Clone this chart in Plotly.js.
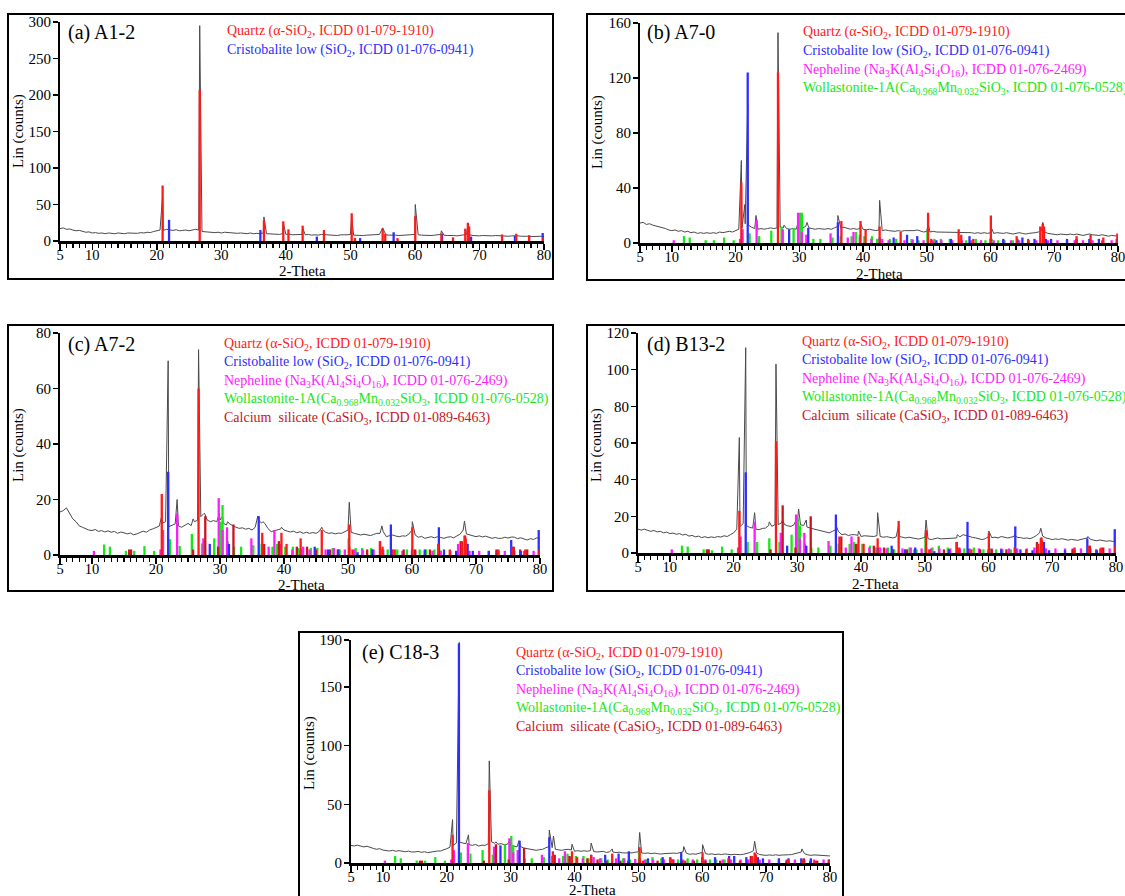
<!DOCTYPE html>
<html><head><meta charset="utf-8">
<script src="https://cdn.plot.ly/plotly-3.0.1.min.js"></script>
<style>html,body{margin:0;padding:0;background:#fff}#chart{width:1125px;height:896px}</style>
</head><body><div id="chart"></div>
<script>
// ---------- observed background (counts at 0.5° steps from 5 to 80) ----------
const bgA = [17,18,16,16.5,15,14,14.5,13,12,12.5,
11,11.5,10.5,11,10,11,10.5,10,11,10.5,
10,11,10.5,11,10.5,11.5,11,12,11.5,13,
14,15,14.5,16,15,14.5,15.5,14,14.5,15,
14,15.5,16,15,13,12.5,12,12.5,11.5,12,
11,12,11.5,11,11.5,10.5,11,10.5,10,11,
10,10.5,10,11,10,9.5,10,9.5,9,10,
9,9.5,8.5,9,9.5,9,8.5,9,8,8.5,
8,9,8.5,8,8.5,8,7.5,8.5,8,8.5,
9,8,7.5,8,7.5,8,8.5,8,8.5,9,
9,8.5,8,8.5,8,7.5,8,8.5,8,9,
9,8.5,8,7.5,8,7.5,8,8.5,9,8,
7.5,8,7.5,7,7.5,8,9,8.5,7.5,7,
7,7.5,7,6.5,7,7.5,7,7.5,7,6.5,
7,7.5,7,6.5,7,6.5,6,6.5,6,6.5,6];
const bgB = [14.5,15,13.5,14,13,12.5,11.5,11,10.5,9.5,
9,9.5,8.5,9,8,8.5,7.5,8,7,7.5,
7,7.5,7,7.5,7,8,7.5,8,8.5,8,
9,10,11,14,13,11.5,10.5,10,10.5,10,
10.5,11,10.5,11,11.5,11,10.5,10,10.5,10,
10,11,12,11,10.5,10,10.5,10,10,10.5,
10,11,12,11,11.5,10.5,10,10.5,10,10.5,
10,9.5,10,9.5,9,9.5,9,9.5,9,8.5,
8.5,9,8.5,9,9,8.5,9,9.5,8.5,8,
8.5,8,8.5,8,8,7.5,8,7.5,8,7.5,
8,7.5,7.5,8,7.5,7,7.5,7,7.5,7,
7.5,7,7.5,7,7,7.5,7,6.5,7,7.5,
7,6.5,7,7,7.5,8,9,8,7,6.5,
6.5,6,6.5,6,6,6.5,6,6.5,6,5.5,
6,6.5,6,5.5,5.5,6,5.5,5,5.5,5,5];
const bgC = [15.5,16,17,15,13,12,10.5,10,9.5,9,
8.8,9.2,8.5,8.8,8.3,8.7,8.2,8.5,7.8,8.3,
8,7.6,7.9,7.3,7.6,8.2,8.6,8.2,9,9.4,
9.8,10.4,11.5,12,10.2,10.8,11.2,10.5,10,10.8,
11.4,10.6,12,12.5,13.8,15,12.6,12,12.4,12,
12.6,11.5,10.8,11.2,10.5,10,9.6,9.8,9.3,9.6,
9,10,12.6,11.5,11.4,9.5,8.4,8.8,9,9.4,
9,8.6,8.3,8.6,8,8.4,7.8,8.2,7.8,8.1,
7.8,8.5,9.3,8.2,7.8,8,7.6,7.9,7.8,8.3,
9,8.2,7.8,7.5,7.2,7.5,7.2,7,7.4,7.8,
7.8,8.4,6.6,7,7.2,6.8,6.6,6.9,6.8,7.5,
9,7.2,6.4,6.7,6,6.4,6.6,6.2,6.6,6.3,
6,6.4,6.6,6.2,6.9,7.5,9,7.6,7.2,6.8,
6.6,6.9,6.5,6.8,6.4,6,6.3,6,6,6.4,
6.1,6.6,6.4,5.9,6.2,5.7,5.4,5.9,5.6,6.2,6];
const bgD = [13,12.5,13,12.2,11.8,12.3,11.5,11.8,11,11.4,
10.6,10.9,10.2,10.6,9.8,10.2,9.2,9.6,8.8,9.2,
8.4,8.9,8.3,8.8,8.4,9,8.7,9.4,9,10,
11,13,14.5,16,15,14,13.6,13,12.7,13.4,
13.6,15,14.5,15.5,15.5,16.4,15.5,14.8,14.5,15.5,
16.4,15.4,15,14.2,13.6,13.2,12.7,12.2,11.8,11.4,
11,11.8,12.7,11.5,10,10.4,9.5,10,10,9.6,
9,9.4,9.2,8.8,9,9.5,9,8.6,8.9,8.4,
8.2,8.8,9,8.5,8.2,8.6,8.4,8,7.6,8,
8.5,7.8,7.3,7.8,8.2,7.7,7.8,8.2,8,8.4,
8.2,8.8,10,9.4,9,8.5,8.2,7.8,7.3,7.8,
9,8.4,8.6,8.2,9,8.6,8.2,8.6,9,8.5,
8.4,8,8.2,7.8,8.5,9.5,11,9.2,8.2,7.8,
7.3,7.7,7.4,7.8,7.3,7,7.4,7.1,6.9,7.4,
7.8,8.2,7.4,7,6.7,7.1,6.8,6.4,6.7,6.3,6.4];
const bgE = [15,14.5,15.2,14.2,13.7,14.3,13,12.4,11.7,12.2,
11,10.6,10.2,10.8,10,10.5,10,9.6,10.1,9.4,
9.4,9.9,9.1,9.6,8.8,9.4,9.6,10.2,10.2,11,
12.2,13.5,15,17,17.9,17,16.5,15.6,15,15.8,
14.5,15.2,15,16.5,18,16.8,16,16.5,15.6,16,
15,14.4,13.7,14.2,12.8,12.2,11.7,11.2,10.8,11.3,
11.7,13,14,13,11.7,11.2,10.8,11.4,11.7,11,
10,10.5,10,10.4,10,10.6,9.8,9.4,9.4,9.9,
9,9.5,9.4,8.9,9.2,8.6,8.5,9,8.6,9.2,
9.5,8.6,8.2,8.6,8,8.4,8,7.6,8,8.3,
8,8.4,8.2,8.8,9.5,8.4,7.4,7.8,7.5,8,
9,8,7.4,7.8,7.2,7.6,7.2,7.7,7.4,7,
7.4,7.1,7.1,7.5,8,9,10.5,8.6,7.2,6.8,
6.5,6.9,6.5,7,6.5,6.8,6.6,7,7.2,7.8,
8.8,9.4,8,7,6.5,6.9,6.8,6.4,6.2,6.6,6];

// ---------- observed sharp peaks (2θ, counts) ----------
const pkA_x = [20.9, 26.65, 36.6, 39.6, 42.6, 50.2, 55.0, 60.05, 64.1, 68.2];
const pkA_y = [62, 295, 33, 25, 18, 33, 18, 50, 14, 20];
const pkB_x = [20.9, 21.45, 21.9, 23.2, 26.65, 27.6, 29.9, 31.2, 36.05, 39.6, 42.6, 50.2, 60.05, 68.2];
const pkB_y = [60, 28, 100, 20, 153, 13, 16, 15, 20, 14, 31, 14, 12, 15];
const pkC_x = [20.9, 21.9, 23.3, 25.8, 26.65, 27.6, 29.9, 30.4, 31.2, 35.9, 36.7, 39.6, 45.9, 50.2, 55.3, 60.05, 68.2, 75.6];
const pkC_y = [14, 70, 20, 13, 74, 15, 15, 14, 12, 14, 12, 10, 10, 19, 10.5, 12, 12.2, 6.5];
const pkD_x = [20.9, 21.9, 23.3, 25.6, 26.65, 27.7, 29.8, 30.2, 31.4, 36.05, 39.6, 42.6, 45.9, 50.2, 55.1, 60.05, 64.1, 68.2, 75.6];
const pkD_y = [63, 112, 22, 17, 103, 18, 18, 24, 18, 15, 12, 22, 15, 18, 10, 12, 10, 13.5, 9];
const pkE_x = [20.9, 21.95, 23.4, 26.65, 27.7, 29.9, 31.3, 36.05, 36.7, 39.6, 42.6, 45.9, 50.2, 57.1, 60.05, 68.2, 75.6];
const pkE_y = [37, 188, 24, 87, 18, 20, 19, 28, 23, 16, 17, 12, 26, 14, 15.6, 18.5, 12];

// ---------- reference stick patterns (positions, heights per sample) ----------
const qzPos = [20.9, 26.65, 36.6, 39.6, 40.4, 42.6, 45.9, 50.2, 50.7, 55.0, 55.4, 57.3, 60.05, 64.1, 65.9, 67.8, 68.2, 68.4, 73.5, 75.7, 77.7, 79.9];
const qzA = [76, 207, 28, 27, 16, 21, 15, 38, 4, 17, 10, 4, 34, 10, 5, 17, 25, 20, 9, 10, 8, 5];
const qzB = [44, 124, 16, 16, 10, 12, 8, 22, 3, 10, 6, 3, 20, 5, 3, 12, 14, 12, 5, 6, 4, 7];
const qzC = [22, 60, 8, 8, 4, 6, 9, 11, 2, 5, 3, 2, 10, 4, 2, 5, 7, 6, 2, 3, 2, 2];
const qzD = [23, 61, 9, 9, 5, 8, 17.5, 12.5, 2, 6, 3, 2, 11, 3, 2, 5, 8, 7, 3, 4, 3, 4];
const qzE = [24, 62, 10, 10, 5, 7, 8, 13.5, 2, 4, 3, 2, 9, 4, 2, 6, 9, 7, 3, 3, 2, 3];

const crPos = [21.9, 28.4, 31.4, 36.05, 42.6, 44.8, 46.9, 48.5, 51.5, 53.8, 56.7, 60.0, 62.0, 64.2, 65.0, 66.9, 68.7, 69.5, 72.0, 73.5, 75.5, 77.0, 79.8];
const crA = [29, 0, 0, 15, 0, 6, 0, 0, 4, 0, 12, 0, 0, 10, 0, 0, 6, 0, 0, 0, 7, 0, 11];
const crB = [124, 10, 11, 15, 4, 4, 6, 5, 2, 3, 5, 3, 3, 3, 4, 3, 3, 3, 3, 3, 3, 3, 3];
const crC = [30, 4, 4, 14, 2, 3, 2, 2, 1, 2, 11, 2, 2, 10, 2, 1.5, 4, 1.5, 1.5, 1.5, 5.4, 1.5, 9];
const crD = [44, 4, 4, 21, 3, 4, 2, 3, 1, 2, 17, 2, 2, 14.5, 2, 1.5, 6, 1.5, 1.5, 1.5, 8, 1.5, 13];
const crE = [187, 15, 19, 22, 7, 7, 8, 10, 4, 5, 9, 5, 5, 6, 6, 5, 5, 4, 4, 4, 4, 4, 3];

const nePos = [10.3, 20.7, 21.1, 23.3, 27.4, 29.8, 30.4, 31.1, 34.9, 37.6, 38.5, 39.5, 41.3, 43.0, 44.0, 46.5, 47.8, 49.5, 51.0, 52.3, 54.0, 55.5, 57.0, 58.5, 60.5, 62.0, 63.2, 64.5, 66.0, 67.2, 69.0, 70.5, 72.0, 73.2, 74.5, 76.0, 77.5, 79.0];
const neB = [2,3,10,17,10, 22,8,6,7,4, 8,4,3,3,2, 2,2.5,2,2,2, 2,2,2,2,2, 2,2,2,2,2, 2,2,2,2,2, 2,2,2];
const neC = [1.5,2,9,15,6, 20.5,9,10,6,3, 9,4,2,3,2, 2,2.5,2,2,2, 2,2,2,1.5,1.5, 1.5,1.5,1.5,1.5,4, 1.5,1.5,1.5,1.5,1.5, 1.5,1.5,1.5];
const neD = [2,3,9,17,11, 21,8,11,6.5,3, 9,4,3,3,2.5, 2.5,3,2.5,2.5,2.5, 2.5,2.5,2.5,2.5,2.5, 2.5,2.5,2.5,2.5,3, 2.5,2.5,2.5,2.5,2.5, 2.5,2.5,2.5];
const neE = [2,3,11,17,14, 21,9,11,7,4, 10,5,4,5,4, 4,4,3.5,3,3, 3,3,3,3,3, 3,3,3,3,3, 3,3,3,3,3, 3,3,3];

const woPos = [11.9, 12.8, 15.3, 16.6, 18.2, 19.7, 22.2, 23.7, 25.6, 27.2, 29.1, 30.1, 30.4, 31.2, 32.2, 33.3, 35.2, 36.5, 38.2, 38.9, 39.5, 40.2, 41.4, 42.2, 44.2, 45.2, 47.6, 48.7, 50.1, 51.2, 52.2, 53.6, 55.2, 56.2, 57.7, 59.2, 60.2, 61.2, 62.2, 63.5, 64.3];
const woB = [5,4,2,2,4, 2,7,5,9,12, 11,22,22,6,3, 3,4,5,5,8, 6,5,5,3,3, 3,3,2,8,3, 3,3,2,2,3, 2,3,2,2,2, 2];
const woC = [3.8,3,1.5,1.5,3.2, 1.5,5.7,3.3,7.6,4.2, 6,12,18,5,3, 3,3.5,4,3,4, 3,3,3,2.5,2.5, 2.5,2.5,2,6,2.5, 2.5,2.5,2,2,2, 2,2,2,2,2, 2];
const woD = [4,3.5,2,1.5,3.5, 2,6,6,8,6, 10,19,15,5,3, 3,4,5,5,6, 5,5,4,3,3, 2,3,2,8,3, 4,3,2,2.5,3, 2,2.5,2,2,2, 2];
const woE = [6,4,2,2,5, 2,9,8,11,7, 16,23,15,6,4, 4,5,6,6,8, 6,6,6,4,4, 3,4,3,9,3, 5,4,3,3,4, 3,3,3,3,3, 3];

const csPos = [15.8, 16.1, 25.8, 27.7, 29.7, 32.1, 36.9, 39.2, 42.0, 43.6, 45.0, 47.2, 48.4, 50.2, 53.0, 55.0, 56.8, 58.7, 60.5, 62.8, 67.6, 68.3, 73.2, 75.9, 76.9, 78.0];
const csC = [2,2,2,14,3, 11,4,5,3,3, 2,2,2,3,2, 5,2,2,2,2, 5,7,2,3,2, 2];
const csD = [2,2,2,26,3, 20,9,5,4,3, 2,2,2,3,2, 6,2,2,2,2, 6,8.5,2,4,2, 3];
const csE = [2,2,2,16,3, 13,7,6,4,3, 2,2,2,4,2, 5,2,2,2,2, 6,8,2,4,2, 2];

// ---------- text ----------
const xTickVals = [5,10,20,30,40,50,60,70,80];
const LEG = {
  qz: 'Quartz (α-SiO<sub>2</sub>, ICDD 01-079-1910)',
  cr: 'Cristobalite low (SiO<sub>2</sub>, ICDD 01-076-0941)',
  ne: 'Nepheline (Na<sub>3</sub>K(Al<sub>4</sub>Si<sub>4</sub>O<sub>16</sub>), ICDD 01-076-2469)',
  wo: 'Wollastonite-1A(Ca<sub>0.968</sub>Mn<sub>0.032</sub>SiO<sub>3</sub>, ICDD 01-076-0528)',
  cs: 'Calcium  silicate (CaSiO<sub>3</sub>, ICDD 01-089-6463)'
};
const COL = {qz:'#ff1a1a', cr:'#2e2eff', ne:'#ff1aff', wo:'#19e619', cs:'#c8141e', obs:'#4a4a4a'};
const POS = {qz:qzPos, cr:crPos, ne:nePos, wo:woPos, cs:csPos};

const W = 1125, H = 896;
const FONT = '"Liberation Serif", "Times New Roman", serif';

const panels = [
  {label:'(a) A1-2', bg:bgA, pkx:pkA_x, pky:pkA_y, ph:{qz:qzA, cr:crA}, leg:['qz','cr'],
   ymax:300, yt:[0,50,100,150,200,250,300],
   plot:[60,544,241,22], box:[8,14,553,279], lab:[66,33], legxy:[225,32], xt:[302,271.5], ytl:[18,131]},
  {label:'(b) A7-0', bg:bgB, pkx:pkB_x, pky:pkB_y, ph:{qz:qzB, cr:crB, ne:neB, wo:woB}, leg:['qz','cr','ne','wo'],
   ymax:160, yt:[0,40,80,120,160],
   plot:[640,1118,243,23], box:[587,14,1140,280], lab:[645,33], legxy:[801,33], xt:[879,273.5], ytl:[597,132]},
  {label:'(c) A7-2', bg:bgC, pkx:pkC_x, pky:pkC_y, ph:{qz:qzC, cr:crC, ne:neC, wo:woC, cs:csC}, leg:['qz','cr','ne','wo','cs'],
   ymax:80, yt:[0,20,40,60,80],
   plot:[60,540,555,333], box:[8,325,553,591], lab:[66,345], legxy:[222,344], xt:[301,584.5], ytl:[18,445]},
  {label:'(d) B13-2', bg:bgD, pkx:pkD_x, pky:pkD_y, ph:{qz:qzD, cr:crD, ne:neD, wo:woD, cs:csD}, leg:['qz','cr','ne','wo','cs'],
   ymax:120, yt:[0,20,40,60,80,100,120],
   plot:[638,1116,553,333], box:[587,325,1140,591], lab:[645,345], legxy:[800,342], xt:[875,583.5], ytl:[596,445]},
  {label:'(e) C18-3', bg:bgE, pkx:pkE_x, pky:pkE_y, ph:{qz:qzE, cr:crE, ne:neE, wo:woE, cs:csE}, leg:['qz','cr','ne','wo','cs'],
   ymax:190, yt:[0,50,100,150,190],
   plot:[351,830,863,640], box:[299,632,843,905], lab:[360,652], legxy:[514,653], xt:[592,889.5], ytl:[309,753]}
];

const traces = [], shapes = [], annotations = [];
const layout = {width:W, height:H, margin:{l:0,r:0,t:0,b:0}, paper_bgcolor:'#fff', plot_bgcolor:'rgba(0,0,0,0)', showlegend:false, shapes, annotations};

function obsLine(bg, pkx, pky) {
  const pts = [];
  bg.forEach((v,i) => { const x = 5 + 0.5*i; if (!pkx.some(p => Math.abs(p-x) < 1e-6)) pts.push([x, v]); });
  pkx.forEach((p,i) => pts.push([p, pky[i]]));
  pts.sort((a,b) => a[0]-b[0]);
  return {x: pts.map(p=>p[0]), y: pts.map(p=>p[1])};
}
function sticks(pos, h, color, xa, ya) {
  const x = [], y = [];
  pos.forEach((p,i) => { if (h[i] > 0) { x.push(p,p,null); y.push(0,h[i],null); } });
  return {type:'scatter', mode:'lines', x, y, xaxis:xa, yaxis:ya, line:{color, width:2.3}, hoverinfo:'skip'};
}

panels.forEach((P, k) => {
  const n = k === 0 ? '' : String(k+1);
  const xa = 'x'+n, ya = 'y'+n;
  const [px0, px1, pyb, pyt] = P.plot;
  layout['xaxis'+n] = {
    domain:[px0/W, px1/W], range:[5,80], anchor:ya, tickmode:'array', tickvals:xTickVals,
    ticks:'outside', ticklen:6, tickwidth:1.5, tickcolor:'#000',
    showline:true, linecolor:'#000', linewidth:2.5, showgrid:false, zeroline:false,
    tickfont:{family:FONT, size:14.5, color:'#000'}, ticklabelstandoff:-7, ticklabeloverflow:'allow',
    minor:{tickmode:'linear', tick0:0, dtick:1, ticks:'outside', ticklen:4, tickwidth:1.2, tickcolor:'#000', showgrid:false},
    fixedrange:true
  };
  layout['yaxis'+n] = {
    domain:[1-pyb/H, 1-pyt/H], range:[0,P.ymax], anchor:xa, tickmode:'array', tickvals:P.yt,
    ticks:'outside', ticklen:5, tickwidth:1.5, tickcolor:'#000',
    showline:true, linecolor:'#000', linewidth:2, showgrid:false, zeroline:false,
    tickfont:{family:FONT, size:15, color:'#000'}, ticklabelstandoff:-1, ticklabeloverflow:'allow', fixedrange:true
  };
  const o = obsLine(P.bg, P.pkx, P.pky);
  traces.push({type:'scatter', mode:'lines', x:o.x, y:o.y, xaxis:xa, yaxis:ya, line:{color:COL.obs, width:1}, hoverinfo:'skip'});
  ['wo','ne','cs','cr','qz'].forEach(key => {
    if (P.ph[key]) traces.push(sticks(POS[key], P.ph[key], COL[key], xa, ya));
  });
  const b = P.box;
  shapes.push({type:'rect', xref:'paper', yref:'paper', x0:b[0]/W, x1:b[2]/W, y0:1-b[3]/H, y1:1-b[1]/H, line:{color:'#000', width:2}});
  annotations.push({xref:'paper', yref:'paper', x:P.lab[0]/W, y:1-P.lab[1]/H, xanchor:'left', yanchor:'middle', showarrow:false, text:P.label, font:{family:FONT, size:20, color:'#000'}});
  P.leg.forEach((key, i) => {
    annotations.push({xref:'paper', yref:'paper', x:P.legxy[0]/W, y:1-(P.legxy[1]+i*18.5)/H, xanchor:'left', yanchor:'middle', showarrow:false, text:LEG[key], font:{family:FONT, size:14, color:COL[key]}});
  });
  annotations.push({xref:'paper', yref:'paper', x:P.xt[0]/W, y:1-P.xt[1]/H, xanchor:'center', yanchor:'middle', showarrow:false, text:'2-Theta', font:{family:FONT, size:15, color:'#000'}});
  annotations.push({xref:'paper', yref:'paper', x:P.ytl[0]/W, y:1-P.ytl[1]/H, xanchor:'center', yanchor:'middle', showarrow:false, textangle:-90, text:'Lin (counts)', font:{family:FONT, size:15, color:'#000'}});
});

Plotly.newPlot('chart', traces, layout, {staticPlot:true, displayModeBar:false});
</script>
</body></html>
